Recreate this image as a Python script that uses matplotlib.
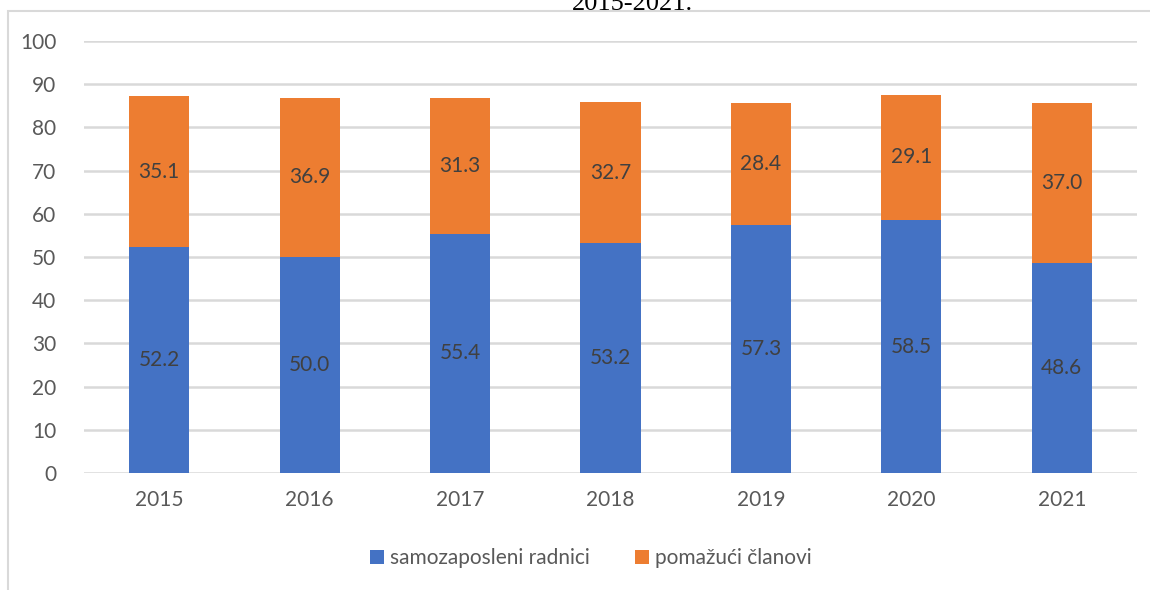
import numpy as np
import matplotlib.pyplot as plt
from matplotlib.patches import Rectangle

years = ['2015', '2016', '2017', '2018', '2019', '2020', '2021']
samozaposleni = [52.2, 50.0, 55.4, 53.2, 57.3, 58.5, 48.6]
pomazuci = [35.1, 36.9, 31.3, 32.7, 28.4, 29.1, 37.0]

BLUE = '#4472C4'
ORANGE = '#ED7D31'
GRID = '#D9D9D9'
TXT = '#595959'
LBL = '#404040'

plt.rcParams['font.family'] = ['Lato', 'DejaVu Sans']

fig = plt.figure(figsize=(11.5, 5.9), dpi=100)

# chart area frame (cut at right and bottom)
fig.patches.append(Rectangle((8 / 1150, -0.1), 1.2, 1 - 11 / 590 + 0.1,
                             transform=fig.transFigure, fill=False,
                             edgecolor='#D9D9D9', lw=1.5, zorder=0))
# cut-off caption line above the chart
fig.text(632 / 1150, 1 - 4 / 590, '2015-2021.', ha='center', va='center',
         family='Liberation Serif', fontsize=19, color='black')

ax = fig.add_axes([84 / 1150, 1 - 473 / 590, (1137 - 84) / 1150, (473 - 41) / 590])
x = np.arange(len(years))
w = 0.4
b1 = ax.bar(x, samozaposleni, w, color=BLUE, label='samozaposleni radnici', zorder=3)
b2 = ax.bar(x, pomazuci, w, bottom=samozaposleni, color=ORANGE,
            label='pomažući članovi', zorder=3)

for i in range(len(years)):
    ax.text(x[i], samozaposleni[i] / 2, f'{samozaposleni[i]:.1f}', ha='center',
            va='center', fontsize=15, color=LBL, zorder=4)
    ax.text(x[i], samozaposleni[i] + pomazuci[i] / 2, f'{pomazuci[i]:.1f}',
            ha='center', va='center', fontsize=15, color=LBL, zorder=4)

ax.set_xlim(-0.5, len(years) - 0.5)
ax.set_ylim(0, 100)
ax.set_yticks(range(0, 101, 10))
ax.set_xticks(x)
ax.set_xticklabels(years)
ax.grid(axis='y', color=GRID, lw=1.8, zorder=0)
for s in ax.spines.values():
    s.set_visible(False)
ax.tick_params(length=0, labelsize=15, colors=TXT)
ax.tick_params(axis='y', pad=20)
ax.tick_params(axis='x', pad=12)

fig.legend(handles=[b1, b2], loc='center', bbox_to_anchor=(591 / 1150, 1 - 558 / 590),
           ncol=2, frameon=False, fontsize=15, labelcolor=TXT,
           handlelength=0.65, handleheight=0.65, handletextpad=0.3, columnspacing=2.2)

plt.savefig('out.png', dpi=100)
